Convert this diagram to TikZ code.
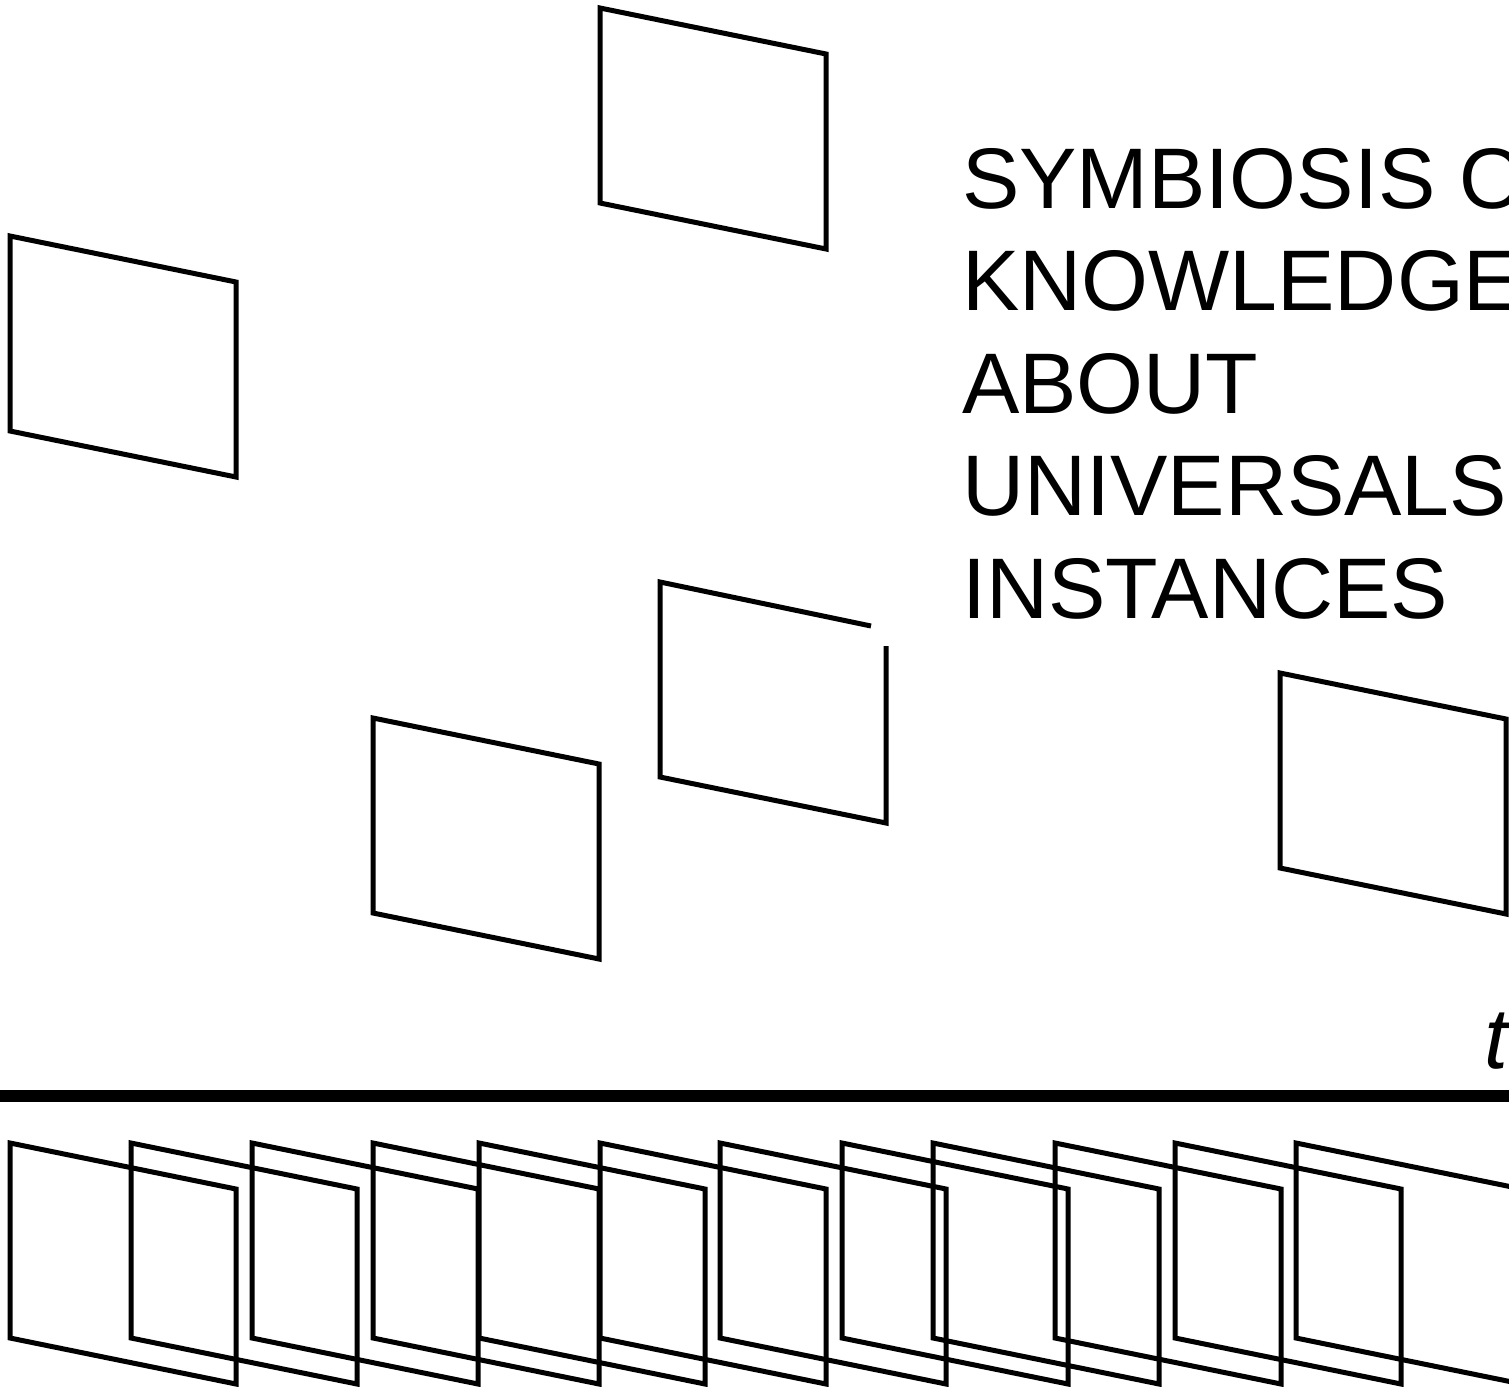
\documentclass[tikz,border=0pt]{standalone}
\usepackage{fontspec}
\setmainfont{Liberation Sans}
\newcommand\myplate[2]{\draw[plate] (#1,#2) -- ++(226,46) -- ++(0,195) -- ++(-226,-46) -- cycle;}
\begin{document}
\begin{tikzpicture}[x=1pt,y=-1pt,
  plate/.style={line width=5pt, line join=miter},
  lbl/.style={anchor=base west, inner sep=0pt, font=\fontsize{86}{103}\selectfont}]
\useasboundingbox (0,0) rectangle (1509,1386);
\clip (0,0) rectangle (1509,1386);
% upper scattered plates
\myplate{600}{8}
\myplate{10}{236}
\myplate{373}{718}
\myplate{1280}{673}
\draw[plate] (871,626) -- (660,582) -- (660,777) -- (886,823) -- (886,646);
% text
\node[lbl] (l1) at (962,208) {SYMBIOSIS OF};
\node[lbl] (l2) at (962,310.5) {KNOWLEDGE};
\node[lbl] (l3) at (962,413) {ABOUT};
\node[lbl] (l4) at (962,515.5) {UNIVERSALS};
\node[lbl] (l5) at (962,618) {INSTANCES};
% time axis
\node[lbl, font=\fontsize{86}{103}\selectfont\itshape] (t) at (1484,1068) {t};
\draw[line width=12pt] (0,1096) -- (1509,1096);
% bottom row
\foreach \x in {10,131,252,373,479,600,720,842,933,1055,1175,1296}{
  \myplate{\x}{1143}
}
\end{tikzpicture}
\end{document}
